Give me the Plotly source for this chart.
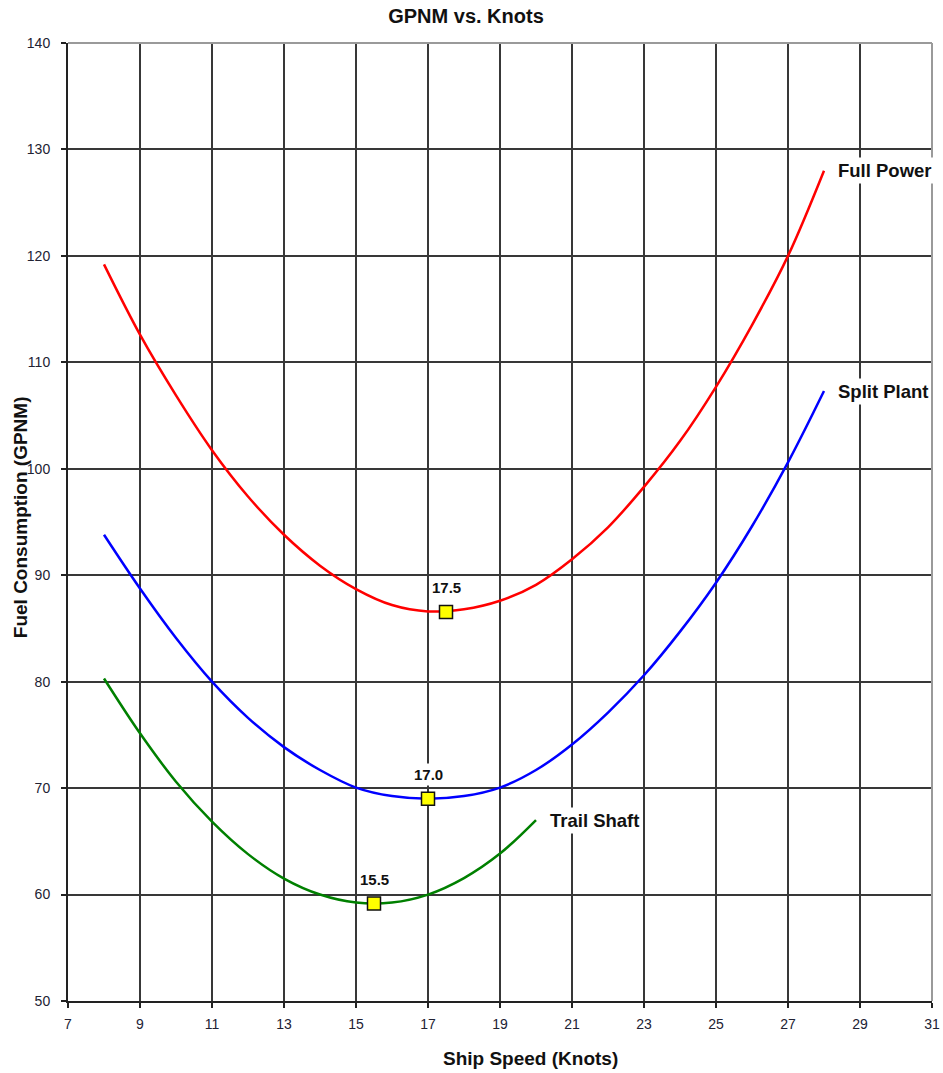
import plotly.graph_objects as go

# ---- data ----
speed_fp = [8, 9, 10, 11, 12, 13, 14, 15, 16, 17, 18, 19, 20, 21, 22, 23, 24, 25, 26, 27, 28]
full_power = [119.2, 112.6, 106.9, 101.75, 97.4, 93.8, 90.9, 88.7, 87.2, 86.6, 86.8, 87.6, 89.1,
              91.5, 94.5, 98.3, 102.6, 107.7, 113.5, 120.0, 128.0]

speed_sp = [8, 9, 10, 11, 12, 13, 14, 15, 16, 17, 18, 19, 20, 21, 22, 23, 24, 25, 26, 27, 28]
split_plant = [93.8, 88.75, 84.1, 80.0, 76.6, 73.85, 71.7, 70.05, 69.25, 69.0, 69.25, 70.05, 71.7,
               74.1, 77.1, 80.6, 84.7, 89.3, 94.6, 100.6, 107.3]

speed_ts = [8, 9, 10, 11, 12, 13, 14, 15, 16, 17, 18, 19, 20]
trail_shaft = [80.3, 75.15, 70.6, 66.85, 63.8, 61.5, 60.0, 59.25, 59.25, 60.0, 61.55, 63.85, 67.0]

min_speed = [17.5, 17.0, 15.5]
min_gpnm = [86.55, 69.0, 59.15]

series_names = ["Full Power", "Split Plant", "Trail Shaft"]
series_colors = ["#FF0000", "#0000FF", "#008000"]

x_ticks = list(range(7, 32, 2))
y_ticks = list(range(50, 141, 10))

FONT = "Liberation Sans, Arial, sans-serif"
TXT = "#111111"

W, H = 943, 1073

fig = go.Figure()

series = [(speed_fp, full_power), (speed_sp, split_plant), (speed_ts, trail_shaft)]
for (xs, ys), name, col in zip(series, series_names, series_colors):
    fig.add_trace(go.Scatter(x=xs, y=ys, mode="lines", name=name,
                             line=dict(color=col, width=2.5, shape="spline", smoothing=1.0),
                             showlegend=False, hoverinfo="skip"))
    fig.add_annotation(x=xs[-1], y=ys[-1], text=f"<b>{name}</b>", showarrow=False,
                       xanchor="left", yanchor="middle", xshift=11,
                       font=dict(family=FONT, size=18.5, color=TXT),
                       bgcolor="white", borderpad=2)

fig.add_trace(go.Scatter(x=min_speed, y=min_gpnm, mode="markers",
                         marker=dict(symbol="square", size=13, color="#FFFF00",
                                     line=dict(color="#111111", width=1.5)),
                         showlegend=False, hoverinfo="skip"))
for xv, yv in zip(min_speed, min_gpnm):
    fig.add_annotation(x=xv, y=yv, text=f"<b>{xv:.1f}</b>", showarrow=False,
                       xanchor="center", yanchor="middle", yshift=24,
                       font=dict(family=FONT, size=15, color=TXT),
                       bgcolor="white", borderpad=2)

# axis titles
fig.add_annotation(xref="paper", yref="paper", x=0.535, y=0, yshift=-57,
                   text="<b>Ship Speed (Knots)</b>", showarrow=False,
                   xanchor="center", yanchor="middle",
                   font=dict(family=FONT, size=19, color=TXT))
fig.add_annotation(xref="paper", yref="paper", x=0, y=0.505, xshift=-48,
                   text="<b>Fuel Consumption (GPNM)</b>", showarrow=False, textangle=-90,
                   xanchor="center", yanchor="middle",
                   font=dict(family=FONT, size=19, color=TXT))

# top and right frame (grey)
fig.add_shape(type="line", xref="paper", yref="paper", x0=0, x1=1, y0=1, y1=1,
              line=dict(color="#9a9a9a", width=2), layer="above")
fig.add_shape(type="line", xref="paper", yref="paper", x0=1, x1=1, y0=0, y1=1,
              line=dict(color="#9a9a9a", width=2), layer="above")

fig.update_layout(
    width=W, height=H,
    margin=dict(l=68, r=11, t=43, b=72, autoexpand=False),
    paper_bgcolor="white", plot_bgcolor="white",
    title=dict(text="<b>GPNM vs. Knots</b>", x=466 / W, xref="container", xanchor="center",
               y=1 - 16 / H, yref="container", yanchor="middle",
               font=dict(family=FONT, size=20, color=TXT)),
    xaxis=dict(range=[7, 31], tickmode="array", tickvals=x_ticks,
               ticktext=[str(v) for v in x_ticks], automargin=False,
               showgrid=True, gridcolor="#383838", gridwidth=1.5,
               showline=True, linecolor="#222222", linewidth=2,
               ticks="outside", ticklen=5, tickcolor="#222222", tickwidth=1.5,
               tickfont=dict(family=FONT, size=14, color="#222233"),
               zeroline=False, fixedrange=True, ticklabelstandoff=4),
    yaxis=dict(range=[50, 140], tickmode="array", tickvals=y_ticks,
               ticktext=[str(v) for v in y_ticks], automargin=False,
               showgrid=True, gridcolor="#383838", gridwidth=1.5,
               showline=True, linecolor="#222222", linewidth=2,
               ticks="outside", ticklen=5, tickcolor="#222222", tickwidth=1.5,
               tickfont=dict(family=FONT, size=14, color="#222233"),
               zeroline=False, fixedrange=True, ticklabelstandoff=8),
)

fig.write_html("out.html", config={"displayModeBar": False},
               post_script="document.body.style.margin='0px';document.body.style.overflow='hidden';")
